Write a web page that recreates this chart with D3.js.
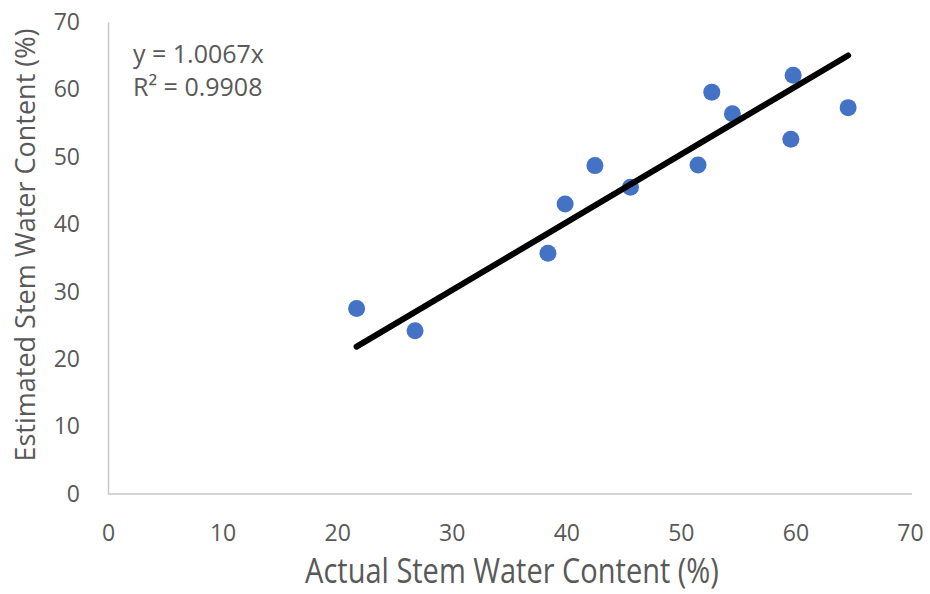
<!DOCTYPE html>
<html>
<head>
<meta charset="utf-8">
<script src="https://cdn.jsdelivr.net/npm/d3@7"></script>
<style>
  body { margin: 0; background: #fff; }
  text { font-family: "Open Sans", sans-serif; fill: #595959; }
</style>
</head>
<body>
<div id="chart_div"></div>
<script>
// actual vs estimated stem water content (%)
var actual    = [21.7, 26.8, 38.4, 39.9, 42.5, 45.6, 51.5, 52.7, 54.5, 59.6, 59.8, 64.6];
var estimated = [27.5, 24.2, 35.7, 43.0, 48.7, 45.5, 48.8, 59.6, 56.4, 52.6, 62.1, 57.3];
var xTicks = [0, 10, 20, 30, 40, 50, 60, 70];
var yTicks = [0, 10, 20, 30, 40, 50, 60, 70];
var slope = 1.0067;
var eqLines = ["y = 1.0067x", "R² = 0.9908"];

var margin = {top: 22, right: 20, bottom: 100, left: 108},
    width = 910 - margin.left,
    height = 494 - margin.top;

var svg = d3.select("#chart_div").append("svg")
    .attr("width", 930)
    .attr("height", 594)
  .append("g")
    .attr("transform", "translate(" + margin.left + "," + margin.top + ")");

var x = d3.scaleLinear().domain([0, 70]).range([0, width]);
var y = d3.scaleLinear().domain([0, 70]).range([height, 0]);

// axes (no tick marks, just labels)
var xAxis = svg.append("g")
    .attr("transform", "translate(0," + height + ")")
    .call(d3.axisBottom(x).tickValues(xTicks).tickSize(0).tickPadding(31));
var yAxis = svg.append("g")
    .call(d3.axisLeft(y).tickValues(yTicks).tickSize(0).tickPadding(28));

[xAxis, yAxis].forEach(function(a) {
  a.select(".domain").attr("stroke", "#c8c8c8").attr("stroke-width", 1.5);
  a.selectAll("text").style("font-size", "23px").style("fill", "#595959")
    .style("font-family", "'Open Sans', sans-serif");
});
xAxis.select(".domain").attr("d", "M0,0H" + (width + 2));

// points
var data = actual.map(function(d, i) { return {x: d, y: estimated[i]}; });
svg.selectAll(".dot")
    .data(data)
  .enter().append("circle")
    .attr("class", "dot")
    .attr("cx", function(d) { return x(d.x); })
    .attr("cy", function(d) { return y(d.y); })
    .attr("r", 8.5)
    .attr("fill", "#4472c4");

// trend line through origin
var x0 = d3.min(actual), x1 = d3.max(actual);
svg.append("line")
    .attr("x1", x(x0)).attr("y1", y(slope * x0))
    .attr("x2", x(x1)).attr("y2", y(slope * x1))
    .attr("stroke", "#000")
    .attr("stroke-width", 6)
    .attr("stroke-linecap", "round");

// equation
svg.selectAll(".eq")
    .data(eqLines)
  .enter().append("text")
    .attr("class", "eq")
    .attr("x", 25)
    .attr("y", function(d, i) { return 41 + i * 33; })
    .style("font-size", "25px")
    .text(function(d) { return d; });

// axis titles
svg.append("text")
    .attr("transform", "translate(" + (width / 2 + 3) + "," + (height + 89) + ") scale(1,1.2)")
    .attr("text-anchor", "middle")
    .style("font-size", "29px")
    .text("Actual Stem Water Content (%)");

svg.append("text")
    .attr("transform", "rotate(-90)")
    .attr("x", -223)
    .attr("y", -73)
    .attr("text-anchor", "middle")
    .style("font-size", "27px")
    .text("Estimated Stem Water Content (%)");
</script>
</body>
</html>
